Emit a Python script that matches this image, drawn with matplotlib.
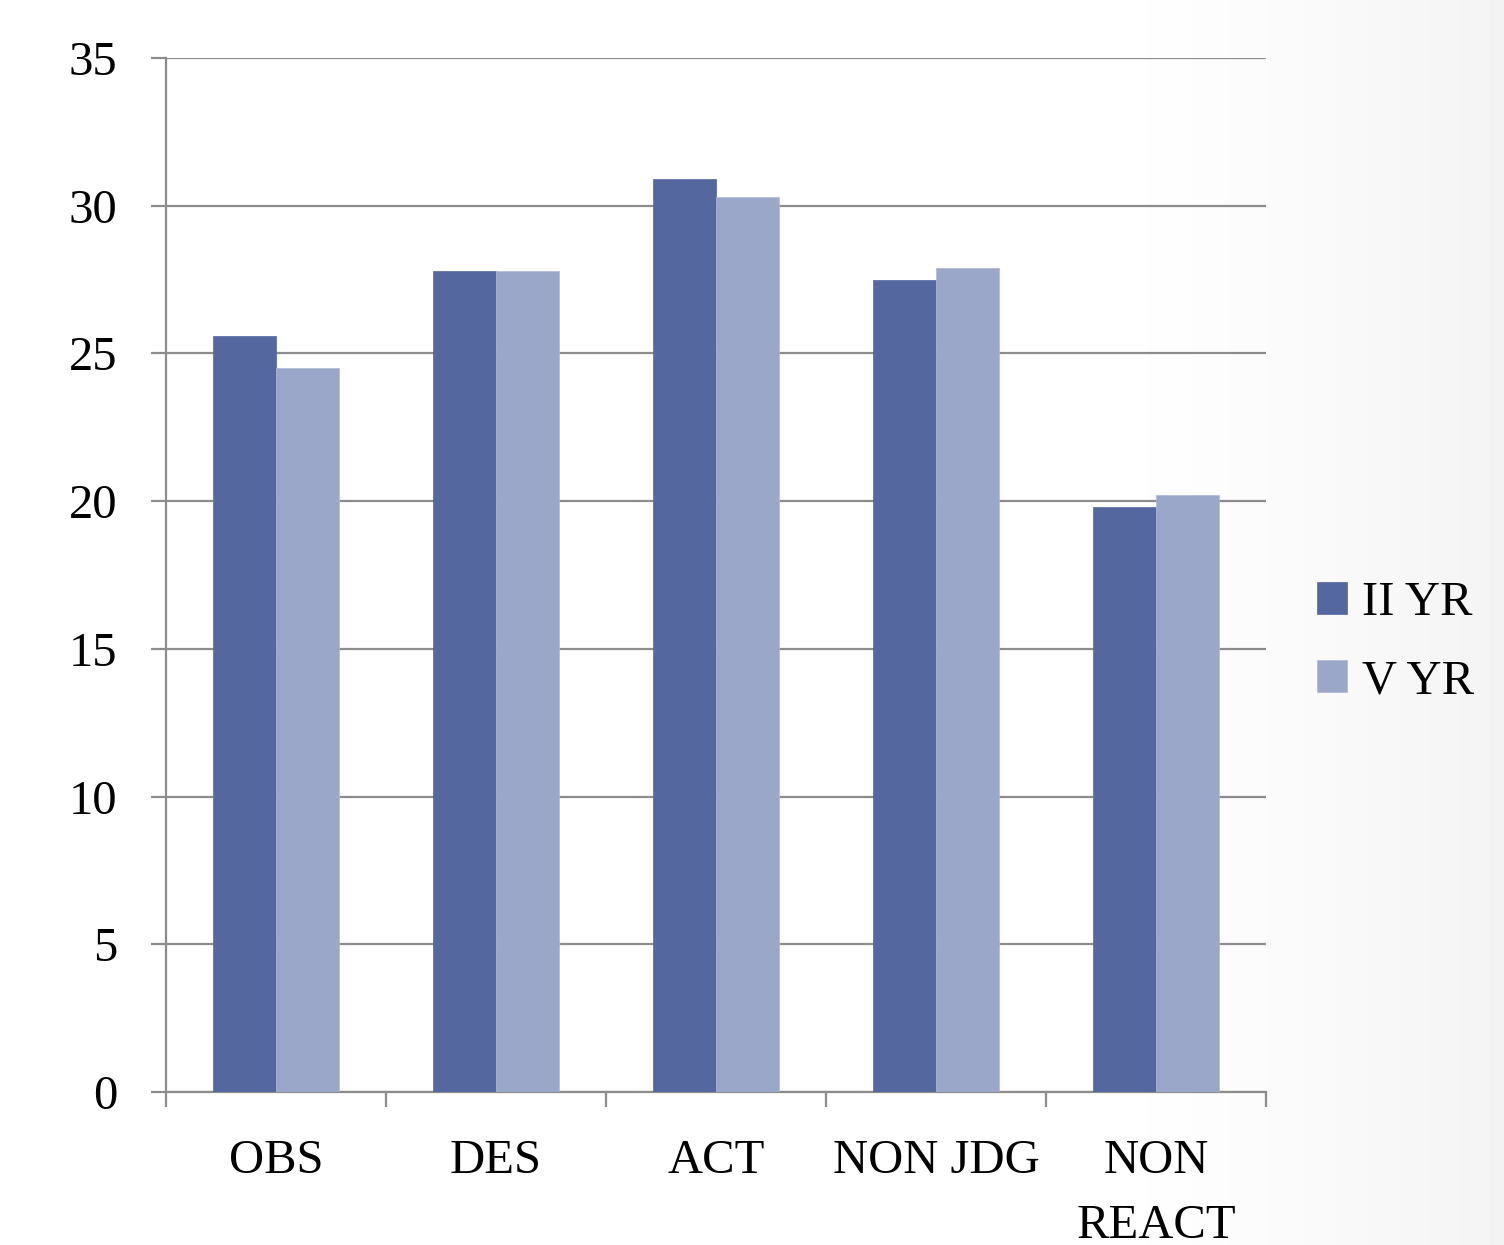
import numpy as np
import matplotlib
matplotlib.use("Agg")
import matplotlib.pyplot as plt

# scores per facet for each year group
categories = ["OBS", "DES", "ACT", "NON JDG", "NON\nREACT"]
year2 = [25.6, 27.8, 30.9, 27.5, 19.8]
year5 = [24.5, 27.8, 30.3, 27.9, 20.2]
series_names = ["II YR", "V YR"]

dark = "#55679F"
light = "#9AA7C9"
grid_grey = "#8C8C8C"

plt.rcParams["font.family"] = ["Liberation Serif", "DejaVu Serif"]

fig = plt.figure(figsize=(15.04, 12.45), dpi=100)

# faint grey shading toward the right edge
bg = fig.add_axes([0, 0, 1, 1], zorder=-10)
xs = np.linspace(0, 1, 400)
shade = np.clip((xs - 0.72) / 0.28, 0, 1) ** 1.3
row = 1.0 - 0.045 * shade
bg.imshow(np.tile(row, (10, 1)), cmap="gray", vmin=0, vmax=1,
          aspect="auto", extent=[0, 1, 0, 1])
bg.axis("off")

ax = fig.add_axes([166 / 1504, 1 - 1092 / 1245, 1100 / 1504, 1034 / 1245])
ax.set_facecolor("none")

x = np.arange(len(categories))
w = 0.2864
ax.bar(x - w / 2, year2, w, color=dark, edgecolor=dark, linewidth=0.5,
       label=series_names[0], zorder=3)
ax.bar(x + w / 2, year5, w, color=light, edgecolor="#aeb9d6", linewidth=0.5,
       label=series_names[1], zorder=3)

ax.set_xlim(-0.5, len(categories) - 0.5)
ax.set_ylim(0, 35)
ax.set_yticks(np.arange(0, 36, 5))
ax.yaxis.grid(True, color=grid_grey, linewidth=1.6, zorder=0)
ax.set_axisbelow(True)

for side in ["top", "right"]:
    ax.spines[side].set_visible(False)
for side in ["left", "bottom"]:
    ax.spines[side].set_color(grid_grey)
    ax.spines[side].set_linewidth(1.6)

ax.tick_params(axis="y", length=11, width=1.6, color=grid_grey,
               labelsize=35, pad=24)

# labels at category centres, tick marks at the boundaries
ax.set_xticks(x)
ax.set_xticklabels(categories, linespacing=1.6)
ax.set_xticks(np.arange(-0.5, len(categories)), minor=True)
ax.tick_params(axis="x", which="major", length=0, labelsize=35, pad=34)
ax.tick_params(axis="x", which="minor", length=11, width=1.6, color=grid_grey)

fig.legend(loc="center left", bbox_to_anchor=(1317 / 1504, 1 - 642 / 1245),
           frameon=False, fontsize=35, handlelength=0.62, handleheight=0.62,
           handletextpad=0.3, labelspacing=0.7, borderpad=0, borderaxespad=0)

fig.savefig("out.png", dpi=100)
